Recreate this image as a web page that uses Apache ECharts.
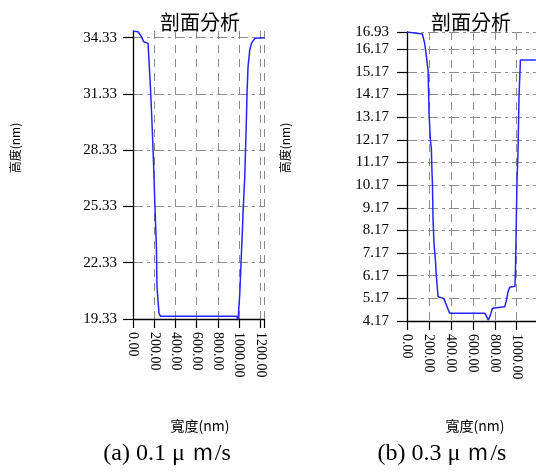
<!DOCTYPE html>
<html>
<head>
<meta charset="utf-8">
<script src="https://cdn.jsdelivr.net/npm/echarts@6/dist/echarts.min.js"></script>
<style>html,body{margin:0;padding:0;background:#fff}#c{width:536px;height:473px}</style>
</head>
<body>
<div id="c"></div>
<script>
// ---- data (a) 0.1 μm/s ----
const leftX = [0, 47, 79, 101, 142, 148, 164, 174, 183, 195, 205, 221, 226, 236, 245, 258, 975, 991, 1007, 1023, 1032, 1038, 1054, 1063, 1070, 1075, 1085, 1101, 1117, 1148, 1240];
const leftY = [34.68, 34.64, 34.38, 34.11, 34.02, 33.4, 31.71, 30.47, 29.24, 27.43, 25.67, 23.11, 21.04, 20.97, 19.64, 19.48, 19.48, 19.31, 20.69, 22.91, 24.07, 25.04, 26.91, 28.69, 30.11, 31.36, 32.78, 33.67, 34.02, 34.29, 34.32];
// ---- data (b) 0.3 μm/s ----
const rightX = [0, 140, 161, 177, 192, 201, 213, 222, 228, 232, 237, 246, 259, 268, 283, 335, 389, 711, 742, 760, 779, 891, 907, 921, 937, 984, 990, 998, 1003, 1012, 1021, 1034, 1175];
const rightY = [16.93, 16.84, 16.43, 15.84, 15.25, 13.34, 12.16, 11.79, 10.69, 10.25, 8.70, 7.60, 6.86, 6.13, 5.24, 5.17, 4.51, 4.51, 4.21, 4.43, 4.73, 4.80, 5.10, 5.46, 5.66, 5.70, 6.72, 9.07, 10.4, 11.64, 14.07, 15.69, 15.69];
// ---- tick labels ----
const leftYTicks = [19.33, 22.33, 25.33, 28.33, 31.33, 34.33];
const rightYTicks = [4.17, 5.17, 6.17, 7.17, 8.17, 9.17, 10.17, 11.17, 12.17, 13.17, 14.17, 15.17, 16.17, 16.93];
const leftXTicks = [0, 200, 400, 600, 800, 1000, 1200];
const rightXTicks = [0, 200, 400, 600, 800, 1000];
const titleText = '剖面分析';
const yName = '高度(nm)';
const xName = '寬度(nm)';
const captions = ['(a) 0.1 μ ｍ/s', '(b) 0.3 μ ｍ/s'];

const pair = (xs, ys) => xs.map((x, i) => [x, ys[i]]);
const chart = echarts.init(document.getElementById('c'));
const lblFont = {fontFamily: 'Liberation Serif', fontSize: 14, color: '#000'};
function xAxis(gi, max, ticks, customTicks) {
  const tick = {show: true, length: 9, lineStyle: {color: '#000', width: 1.2}};
  if (customTicks) tick.customValues = ticks;
  return {
    type: 'value', gridIndex: gi, min: 0, max: max, interval: 200,
    axisLine: {show: true, onZero: false, lineStyle: {color: '#000', width: 1.3}},
    axisTick: tick,
    axisLabel: Object.assign({rotate: -90, margin: 13, customValues: ticks,
      formatter: v => Number(v).toFixed(2)}, lblFont),
    splitLine: {show: true, lineStyle: {color: '#8c8c8c', width: 1, type: [8, 6]}}
  };
}
function yAxis(gi, min, max, ticks, margin) {
  return {
    type: 'value', gridIndex: gi, min: min, max: max,
    axisLine: {show: true, onZero: false, lineStyle: {color: '#000', width: 1.3}},
    axisTick: {show: true, length: 10, customValues: ticks, lineStyle: {color: '#000', width: 1.2}},
    axisLabel: Object.assign({margin: margin, customValues: ticks,
      formatter: v => Number(v).toFixed(2)}, lblFont, {fontSize: 15}),
    splitLine: {show: true, lineStyle: {color: '#8c8c8c', width: 1, type: [10, 4, 3, 4]}}
  };
}
const txt = (text, x, y, size, family, rot) => ({
  type: 'text', x: x, y: y, rotation: rot || 0,
  style: {text: text, fontSize: size, fontFamily: family, fill: '#000', align: 'center', verticalAlign: 'middle'}
});
chart.setOption({
  animation: false,
  backgroundColor: '#fff',
  grid: [
    {left: 133, top: 31, width: 131.5, height: 288},
    {left: 407, top: 32, width: 128.9, height: 289}
  ],
  xAxis: [xAxis(0, 1240, leftXTicks, false), xAxis(1, 1175, rightXTicks, true)],
  yAxis: [yAxis(0, 19.33, 34.68, leftYTicks, 16), yAxis(1, 4.17, 16.93, rightYTicks, 18)],
  series: [
    {type: 'line', xAxisIndex: 0, yAxisIndex: 0, data: pair(leftX, leftY), showSymbol: false,
     lineStyle: {color: '#2424ff', width: 1.5}},
    {type: 'line', xAxisIndex: 1, yAxisIndex: 1, data: pair(rightX, rightY), showSymbol: false,
     lineStyle: {color: '#2424ff', width: 1.5}}
  ],
  graphic: [
    txt(titleText, 200, 22, 20, 'Noto Sans CJK TC'),
    txt(titleText, 471, 22, 20, 'Noto Sans CJK TC'),
    txt(yName, 15, 148, 12, 'Noto Sans CJK TC', Math.PI / 2),
    txt(yName, 285, 148, 12, 'Noto Sans CJK TC', Math.PI / 2),
    txt(xName, 200, 426, 14, 'Noto Sans CJK TC'),
    txt(xName, 475, 426, 14, 'Noto Sans CJK TC'),
    txt(captions[0], 167, 454, 24, 'Liberation Serif'),
    txt(captions[1], 442, 454, 24, 'Liberation Serif')
  ]
});
</script>
</body>
</html>
